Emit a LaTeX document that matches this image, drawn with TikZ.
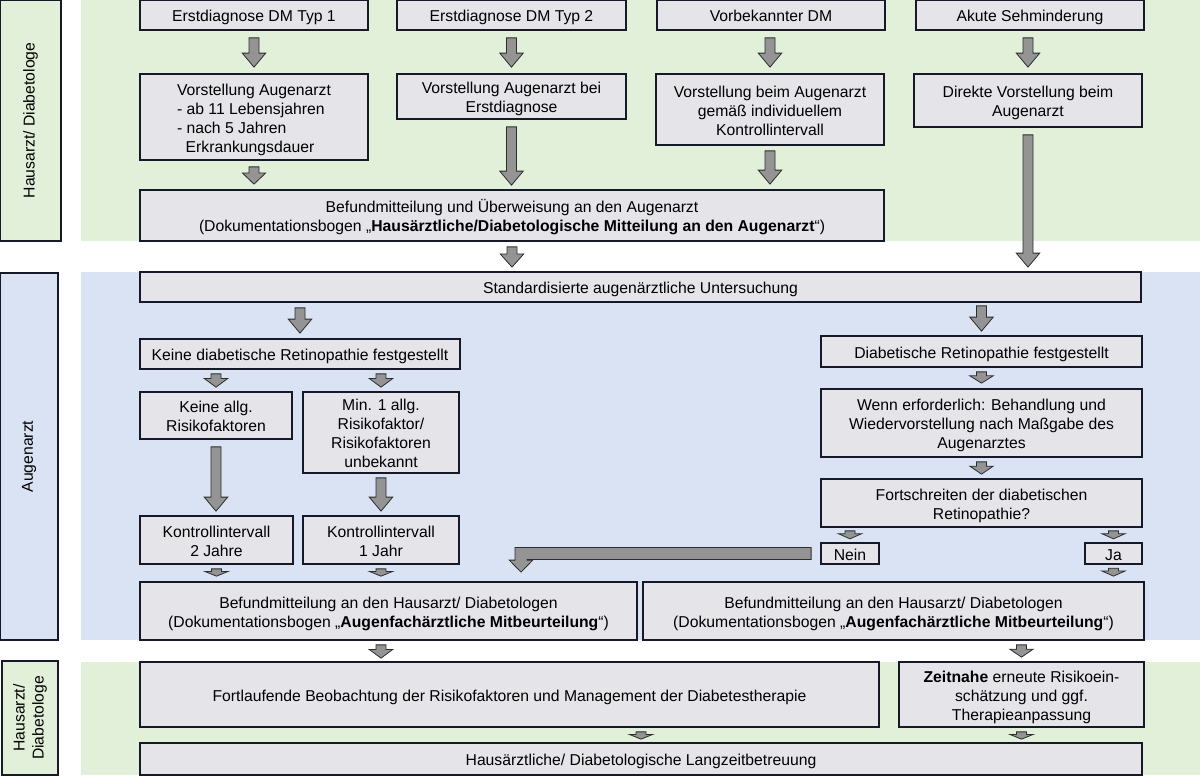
\documentclass[tikz,border=0pt]{standalone}
\usepackage{fontspec}
\setmainfont{Liberation Sans}
\usetikzlibrary{calc}
\definecolor{pgreen}{RGB}{226,240,217}
\definecolor{pblue}{RGB}{218,227,243}
\definecolor{boxfill}{RGB}{229,228,233}
\definecolor{edge}{RGB}{22,26,40}
\definecolor{arrfill}{RGB}{148,148,148}
\definecolor{arredge}{RGB}{45,45,45}
\tikzset{
  flowbox/.style={draw=edge, fill=boxfill, line width=1.3pt, inner sep=1pt,
    font=\fontsize{11.8}{14.2}\selectfont, text=black},
  labbox/.style={draw=edge, line width=1.3pt, inner sep=1pt, align=center, rotate=90,
    font=\fontsize{11.8}{14.2}\selectfont, text=black},
  blockarrow/.style={fill=arrfill, draw=arredge, line width=0.6pt, line join=miter}
}
% text block, lowered slightly inside its box
\newcommand\tx[2][c]{\raisebox{-2.2pt}[\height][\depth]{\begin{tabular}{@{}#1@{}}#2\end{tabular}}}
% block arrow: x-reference, from, to, gap top, gap bottom (px)
\newcommand\barrow[5]{%
  \draw[blockarrow] let \p3=#1, \p1=#2, \p2=#3,
    \n1={\y1-(#4)*0.75pt}, \n2={\y2+(#5)*0.75pt},
    \n3={min(10.5pt,0.65*(\n1-\n2))} in
    (\x3-3.75pt,\n1) -- (\x3+3.75pt,\n1) -- (\x3+3.75pt,\n2+\n3) -- (\x3+8.8pt,\n2+\n3)
    -- (\x3,\n2) -- (\x3-8.8pt,\n2+\n3) -- (\x3-3.75pt,\n2+\n3) -- cycle;}
\begin{document}
\begin{tikzpicture}[x=0.75pt, y=-0.75pt]
\useasboundingbox (0,0) rectangle (1200,780);
% panels
\fill[pgreen] (81,0) rectangle (1200,241);
\fill[pblue] (81,272) rectangle (1200,640);
\fill[pgreen] (81,662) rectangle (1200,775);
% lane labels
\node[labbox, fill=pgreen, minimum width={241*0.75pt}, minimum height={61*0.75pt}] (lab1) at (30.5,120.5) {Hausarzt/ Diabetologe};
\node[labbox, fill=pblue, minimum width={367*0.75pt}, minimum height={58*0.75pt}] (lab2) at (29,456.5) {Augenarzt};
\node[labbox, fill=pgreen, minimum width={114*0.75pt}, minimum height={56*0.75pt}] (lab3) at (30,718) {Hausarzt/\\Diabetologe};
% row 1
\node[flowbox, minimum width={228*0.75pt}, minimum height={30*0.75pt}] (d1) at (254,15) {\tx{Erstdiagnose DM Typ 1}};
\node[flowbox, minimum width={229*0.75pt}, minimum height={30*0.75pt}] (d2) at (511.5,15) {\tx{Erstdiagnose DM Typ 2}};
\node[flowbox, minimum width={228*0.75pt}, minimum height={30*0.75pt}] (d3) at (771,15) {\tx{Vorbekannter DM}};
\node[flowbox, minimum width={228*0.75pt}, minimum height={30*0.75pt}] (d4) at (1030,15) {\tx{Akute Sehminderung}};
% row 2
\node[flowbox, minimum width={228*0.75pt}, minimum height={86*0.75pt}] (v1) at (254,117) {\tx[l]{Vorstellung Augenarzt\\- ab 11 Lebensjahren\\- nach 5 Jahren\\\hspace*{6.5pt}Erkrankungsdauer}};
\node[flowbox, minimum width={229*0.75pt}, minimum height={45*0.75pt}] (v2) at (511.5,96.5) {\tx{Vorstellung Augenarzt bei\\Erstdiagnose}};
\node[flowbox, minimum width={228*0.75pt}, minimum height={71*0.75pt}] (v3) at (770,109.5) {\tx{Vorstellung beim Augenarzt\\gemäß individuellem\\Kontrollintervall}};
\node[flowbox, minimum width={228*0.75pt}, minimum height={53*0.75pt}] (v4) at (1028,100.5) {\tx{Direkte Vorstellung beim\\Augenarzt}};
\node[flowbox, minimum width={744*0.75pt}, minimum height={51*0.75pt}] (bef1) at (512,215.5) {\tx{Befundmitteilung und Überweisung an den Augenarzt\\(Dokumentationsbogen „\textbf{Hausärztliche/Diabetologische Mitteilung an den Augenarzt}“)}};
% Augenarzt
\node[flowbox, minimum width={1001*0.75pt}, minimum height={30*0.75pt}] (std) at (640.5,287) {\tx{Standardisierte augenärztliche Untersuchung}};
\node[flowbox, minimum width={320*0.75pt}, minimum height={30*0.75pt}] (kdr) at (300,354) {\tx{Keine diabetische Retinopathie festgestellt}};
\node[flowbox, minimum width={321*0.75pt}, minimum height={31*0.75pt}] (dr) at (981.5,351.5) {\tx{Diabetische Retinopathie festgestellt}};
\node[flowbox, minimum width={152*0.75pt}, minimum height={47*0.75pt}] (ka) at (216,415.5) {\tx{Keine allg.\\Risikofaktoren}};
\node[flowbox, minimum width={156*0.75pt}, minimum height={81*0.75pt}] (min1) at (381,432.5) {\tx{Min. 1 allg.\\Risikofaktor/\\Risikofaktoren\\unbekannt}};
\node[flowbox, minimum width={153*0.75pt}, minimum height={48*0.75pt}] (k2) at (216.5,540) {\tx{Kontrollintervall\\2 Jahre}};
\node[flowbox, minimum width={156*0.75pt}, minimum height={48*0.75pt}] (k1) at (381,540) {\tx{Kontrollintervall\\1 Jahr}};
\node[flowbox, minimum width={321*0.75pt}, minimum height={68*0.75pt}] (wenn) at (981.5,423) {\tx{Wenn erforderlich: Behandlung und\\Wiedervorstellung nach Maßgabe des\\Augenarztes}};
\node[flowbox, minimum width={321*0.75pt}, minimum height={48*0.75pt}] (fort) at (981.5,503) {\tx{Fortschreiten der diabetischen\\Retinopathie?}};
\node[flowbox, minimum width={58*0.75pt}, minimum height={21*0.75pt}] (nein) at (850,553.5) {\tx{Nein}};
\node[flowbox, minimum width={57*0.75pt}, minimum height={21*0.75pt}] (ja) at (1113.5,553.5) {\tx{Ja}};
\node[flowbox, minimum width={497*0.75pt}, minimum height={58*0.75pt}] (befL) at (388.5,611) {\tx{Befundmitteilung an den Hausarzt/ Diabetologen\\(Dokumentationsbogen „\textbf{Augenfachärztliche Mitbeurteilung}“)}};
\node[flowbox, minimum width={501*0.75pt}, minimum height={58*0.75pt}] (befR) at (893.5,611) {\tx{Befundmitteilung an den Hausarzt/ Diabetologen\\(Dokumentationsbogen „\textbf{Augenfachärztliche Mitbeurteilung}“)}};
% bottom
\node[flowbox, minimum width={739*0.75pt}, minimum height={65*0.75pt}] (fortl) at (509.5,694.5) {\tx{Fortlaufende Beobachtung der Risikofaktoren und Management der Diabetestherapie}};
\node[flowbox, minimum width={245*0.75pt}, minimum height={65*0.75pt}] (zeit) at (1021.5,694.5) {\tx{\textbf{Zeitnahe} erneute Risikoein-\\schätzung und ggf.\\Therapieanpassung}};
\node[flowbox, minimum width={1002*0.75pt}, minimum height={32*0.75pt}] (lang) at (641,759) {\tx{Hausärztliche/ Diabetologische Langzeitbetreuung}};
% arrows
\barrow{(v1)}{(d1.south)}{(v1.north)}{7}{6}
\barrow{(v2)}{(d2.south)}{(v2.north)}{7}{6}
\barrow{(v3)}{(d3.south)}{(v3.north)}{7}{6}
\barrow{(v4)}{(d4.south)}{(v4.north)}{7}{6}
\barrow{(v1)}{(v1.south)}{(bef1.north)}{6}{5}
\barrow{(v2)}{(v2.south)}{(bef1.north)}{7}{4}
\barrow{(v3)}{(v3.south)}{(bef1.north)}{5}{5}
\barrow{(v4)}{(v4.south)}{(std.north)}{7}{4}
\barrow{(bef1)}{(bef1.south)}{(std.north)}{5}{4}
\barrow{(kdr)}{(std.south)}{(kdr.north)}{5}{5}
\barrow{(dr)}{(std.south)}{(dr.north)}{3}{4}
\barrow{(ka)}{(kdr.south)}{(ka.north)}{4}{4}
\barrow{(min1)}{(kdr.south)}{(min1.north)}{4}{4}
\barrow{(ka)}{(ka.south)}{(k2.north)}{7}{4}
\barrow{(min1)}{(min1.south)}{(k1.north)}{4}{4}
\barrow{(k2)}{(k2.south)}{(befL.north)}{4}{5}
\barrow{(k1)}{(k1.south)}{(befL.north)}{4}{5}
\barrow{(dr)}{(dr.south)}{(wenn.north)}{4}{5}
\barrow{(wenn)}{(wenn.south)}{(fort.north)}{4}{4}
\barrow{(nein)}{(fort.south)}{(nein.north)}{3}{3}
\barrow{(ja)}{(fort.south)}{(ja.north)}{3}{3}
\barrow{(ja)}{(ja.south)}{(befR.north)}{3}{5}
\barrow{(k1)}{(befL.south)}{(fortl.north)}{4}{3}
\barrow{(zeit)}{(befR.south)}{(zeit.north)}{4}{4}
\barrow{(lang)}{(fortl.south)}{(lang.north)}{4}{3}
\barrow{(zeit)}{(zeit.south)}{(lang.north)}{4}{3}
% bent arrow from "Nein"
\draw[blockarrow] let \p1=(nein.west), \p2=(befL.north),
  \n1={\x2+132.5*0.75pt}, \n2={\y2+9*0.75pt} in
  (\x1-6.75pt,\y1+4.5pt) -- (\n1-4.5pt,\y1+4.5pt) -- (\n1-4.5pt,\n2+9pt) -- (\n1-8.8pt,\n2+9pt)
  -- (\n1,\n2) -- (\n1+8.8pt,\n2+9pt) -- (\n1+4.5pt,\n2+9pt) -- (\n1+4.5pt,\y1-4.5pt)
  -- (\x1-6.75pt,\y1-4.5pt) -- cycle;
\end{tikzpicture}
\end{document}
